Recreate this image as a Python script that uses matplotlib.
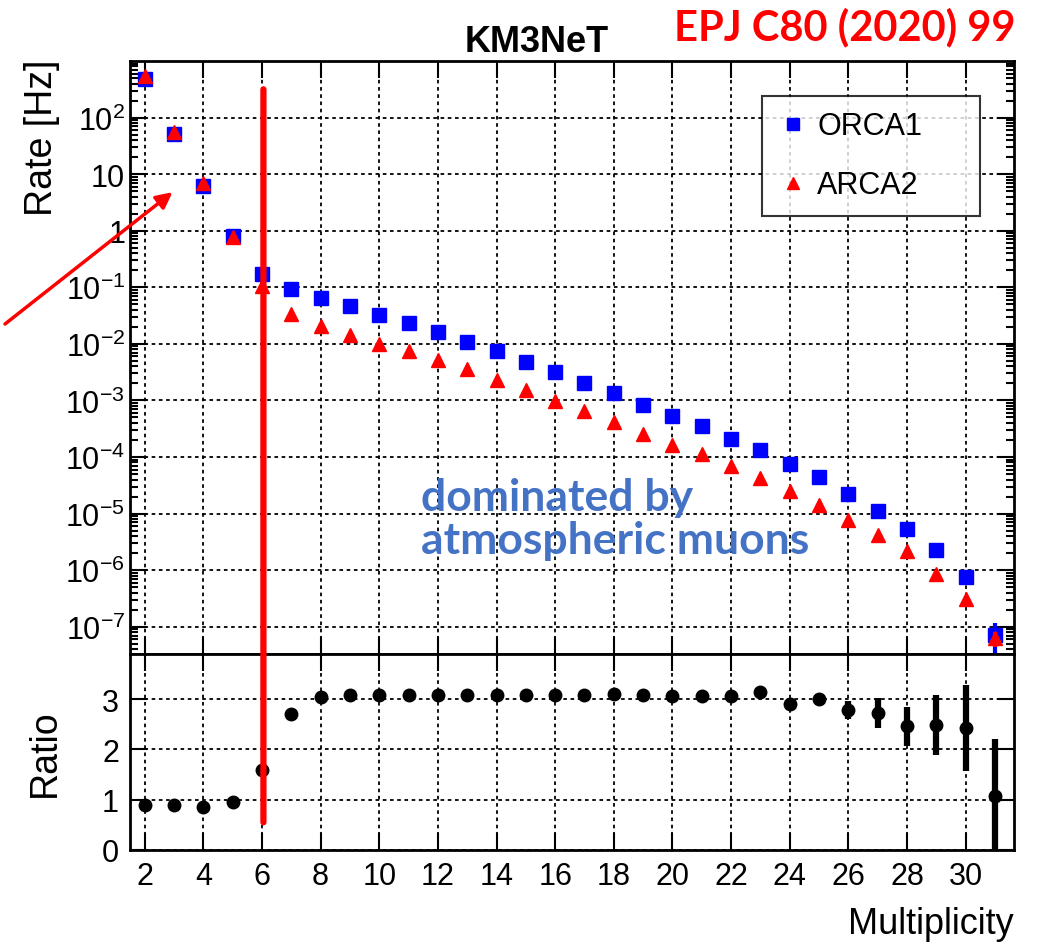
import numpy as np
import matplotlib
matplotlib.use("Agg")
import matplotlib.pyplot as plt
from matplotlib.ticker import LogLocator, FixedLocator, NullFormatter, FuncFormatter
from matplotlib.patches import ConnectionPatch
from matplotlib.lines import Line2D

plt.rcParams['font.family'] = ['Liberation Sans', 'DejaVu Sans']
plt.rcParams['mathtext.fontset'] = 'custom'
plt.rcParams['mathtext.rm'] = 'Liberation Sans'
plt.rcParams['mathtext.it'] = 'Liberation Sans'

# multiplicity bins
multiplicity = list(range(2, 32))

# ORCA1 rate [Hz]
orca_rate = [490, 51, 6.1, 0.81, 0.17, 0.094, 0.064, 0.047, 0.033, 0.0235,
             0.0162, 0.011, 0.0075, 0.0048, 0.0032, 0.0020, 0.00134, 0.00082,
             0.00053, 0.00035, 0.00021, 0.000135, 7.4e-5, 4.4e-5, 2.2e-5,
             1.1e-5, 5.3e-6, 2.3e-6, 7.5e-7, 7.2e-8]
orca_relerr = [0]*26 + [0.05, 0.1, 0.15, 0.6]

# ARCA2 rate [Hz]
arca_rate = [540, 56, 7.0, 0.77, 0.107, 0.034, 0.0205, 0.0145, 0.010, 0.0074,
             0.0052, 0.0036, 0.0023, 0.00155, 0.00096, 0.00064, 0.00041,
             0.00026, 0.000166, 0.000113, 6.9e-5, 4.3e-5, 2.5e-5, 1.4e-5,
             7.7e-6, 4.2e-6, 2.2e-6, 8.5e-7, 3.1e-7, 6.3e-8]
arca_relerr = [0]*27 + [0.08, 0.12, 0.3]

# ratio ORCA1 / ARCA2
ratio = [0.89, 0.89, 0.85, 0.95, 1.59, 2.70, 3.05, 3.09, 3.09, 3.09, 3.09,
         3.09, 3.09, 3.08, 3.08, 3.08, 3.11, 3.09, 3.06, 3.06, 3.06, 3.15,
         2.90, 3.00, 2.79, 2.72, 2.46, 2.49, 2.43, 1.08]
ratio_err = [0.02]*22 + [0.12, 0.10, 0.18, 0.30, 0.39, 0.60, 0.85, 1.12]

W, H = 1046, 945
fig = plt.figure(figsize=(W/100, H/100), dpi=100)
ax = fig.add_axes([0.1243, 0.3069, 0.8451, 0.6275])
axr = fig.add_axes([0.1243, 0.0995, 0.8451, 0.2074], sharex=ax)

grid_kw = dict(color='black', linestyle=(0, (2, 2)), linewidth=1.3)

# upper panel
x = np.array(multiplicity)
o = np.array(orca_rate)
a = np.array(arca_rate)
ax.errorbar(x, o, yerr=o*np.array(orca_relerr), fmt='s', color='blue', ms=9.5,
            elinewidth=3, capsize=0, zorder=3)
ax.errorbar(x, a, yerr=a*np.array(arca_relerr), fmt='^', color='red', ms=10.5,
            elinewidth=3, capsize=0, zorder=4)
ax.set_yscale('log')
ax.set_xlim(1.5, 31.65)
ax.set_ylim(3.3e-8, 1000)
ax.yaxis.set_major_locator(FixedLocator([10.0**k for k in range(-7, 3)]))
ax.yaxis.set_minor_locator(LogLocator(base=10, subs=np.arange(2, 10), numticks=20))
ax.yaxis.set_minor_formatter(NullFormatter())


def fmt_log(v, pos):
    k = int(round(np.log10(v)))
    if k == 0:
        return '1'
    if k == 1:
        return '10'
    return r'$10^{%d}$' % k


ax.yaxis.set_major_formatter(FuncFormatter(fmt_log))
ax.set_xticks(range(2, 31, 2))
ax.grid(True, which='major', **grid_kw)
ax.tick_params(which='both', direction='in', top=True, right=True,
               labelbottom=False, labelsize=22, width=1.5)
ax.tick_params(which='major', length=12)
ax.tick_params(which='minor', length=6)
ax.set_ylabel('Rate [Hz]', fontsize=27)
ax.yaxis.set_label_coords(-0.079, 0.872)

handles = [Line2D([], [], ls='none', marker='s', color='blue', ms=8),
           Line2D([], [], ls='none', marker='^', color='red', ms=9)]
leg = ax.legend(handles, ['ORCA1', 'ARCA2'], loc='upper left',
                bbox_to_anchor=(0.715, 0.754, 0.2465, 0.187), mode='expand',
                borderaxespad=0, fontsize=22, frameon=True, fancybox=False,
                handletextpad=0.3, borderpad=0.5, labelspacing=0.95,
                handlelength=1.0)
leg.get_frame().set_edgecolor('black')
leg.get_frame().set_linewidth(1.5)

# lower panel
axr.errorbar(x, ratio, yerr=ratio_err, fmt='o', color='black', ms=9,
             elinewidth=4.5, capsize=0, zorder=3)
axr.set_ylim(0, 3.9)
axr.set_yticks([0, 1, 2, 3])
axr.grid(True, which='major', **grid_kw)
axr.tick_params(which='both', direction='in', top=True, right=True,
                labelsize=22, width=1.5, length=12, pad=8)
axr.set_ylabel('Ratio', fontsize=27)
axr.yaxis.set_label_coords(-0.076, 0.5)
axr.set_xlabel('Multiplicity', fontsize=26, ha='right', x=1.0, labelpad=11)

for axis in (ax, axr):
    for s in axis.spines.values():
        s.set_linewidth(2)

fig.text(537/W, 1 - 43/H, 'KM3NeT', fontsize=26, fontweight='bold',
         ha='center', va='center')
fig.text(1 - 31/W, 1 - 27/H, 'EPJ C80 (2020) 99', fontsize=30, fontweight='bold',
         color='#ff0000', ha='right', va='center', family=['Lato', 'DejaVu Sans'])
ax.text(0.329, 0.228, 'dominated by\natmospheric muons', transform=ax.transAxes,
        fontsize=32, fontweight='bold', color='#4472c4', ha='left', va='center',
        family=['Lato', 'DejaVu Sans'], linespacing=1.1)

# red marker line at multiplicity 6, through both panels
con = ConnectionPatch(xyA=(6.05, 316), coordsA=ax.transData,
                      xyB=(6.05, 0.55), coordsB=axr.transData,
                      color='red', linewidth=4.5, zorder=10)
fig.add_artist(con)

# red arrow
ax.annotate('', xy=(2.95, 4.8), xycoords='data',
            xytext=(5/W, 1 - 325/H), textcoords='figure fraction',
            arrowprops=dict(arrowstyle='-|>', color='red', lw=2.5,
                            mutation_scale=24, shrinkA=0, shrinkB=0),
            annotation_clip=False)

fig.savefig('out.png', dpi=100)
